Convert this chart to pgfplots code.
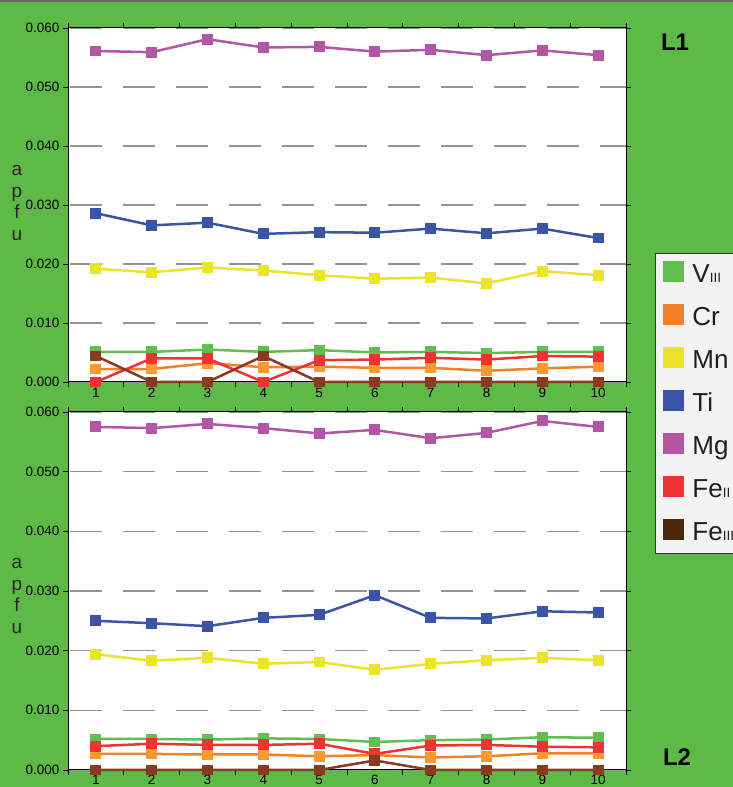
\documentclass[border=0pt]{standalone}
\usepackage{pgfplots}
\pgfplotsset{compat=1.18}
\usepackage{pgfplotstable}
\usepackage{fontspec}
\setmainfont{Liberation Sans}

\definecolor{bggreen}{RGB}{94,186,71}
\definecolor{cV}{RGB}{98,190,80}
\definecolor{cCr}{RGB}{244,128,42}
\definecolor{cCrm}{RGB}{248,154,48}
\definecolor{cMn}{RGB}{236,228,44}
\definecolor{cTi}{RGB}{58,85,166}
\definecolor{cMg}{RGB}{178,86,165}
\definecolor{cFeII}{RGB}{238,52,50}
\definecolor{cFeIII}{RGB}{138,58,32}
\definecolor{cFeIIIleg}{RGB}{74,42,10}
\definecolor{legfill}{RGB}{243,243,243}

\pgfplotstableread{
x V Cr Mn Ti Mg FeII FeIII
1 0.0051 0.0022 0.0192 0.0286 0.0561 0.0000 0.0044
2 0.0051 0.0022 0.0186 0.02655 0.0559 0.0040 0.0000
3 0.0055 0.0032 0.0194 0.0270 0.0581 0.0040 0.0000
4 0.0051 0.0025 0.0189 0.0251 0.0567 0.0000 0.0044
5 0.0054 0.0026 0.0181 0.0254 0.0568 0.0037 0.0000
6 0.0050 0.0024 0.0175 0.0253 0.0560 0.0038 0.0000
7 0.0051 0.0024 0.0177 0.0260 0.0563 0.0041 0.0000
8 0.0049 0.0019 0.0167 0.0252 0.0554 0.0038 0.0000
9 0.0051 0.0023 0.0188 0.0260 0.0562 0.0044 0.0000
10 0.0051 0.0026 0.0181 0.0244 0.0554 0.0043 0.0000
}\tableLone

\pgfplotstableread{
x V Cr Mn Ti Mg FeII FeIII
1 0.0052 0.0027 0.0194 0.0250 0.0575 0.0040 0.0000
2 0.0052 0.0027 0.0183 0.0246 0.0573 0.0044 0.0000
3 0.0051 0.0026 0.0188 0.0241 0.0580 0.0042 0.0000
4 0.0053 0.0026 0.0178 0.0255 0.0573 0.0042 0.0000
5 0.0052 0.0023 0.0181 0.0260 0.0564 0.0044 0.0000
6 0.0047 0.0025 0.0168 0.0293 0.0570 0.0027 0.0016
7 0.0050 0.0021 0.0178 0.0255 0.0556 0.0041 0.0000
8 0.0051 0.0023 0.0184 0.0254 0.0565 0.0042 0.0000
9 0.0055 0.0028 0.0188 0.0266 0.0585 0.0039 0.0000
10 0.0054 0.0028 0.0184 0.0264 0.0575 0.0038 0.0000
}\tableLtwo

\pgfplotsset{
  panel/.style={
    scale only axis,
    width=558pt,
    xmin=0.5, xmax=10.5,
    ymin=0, ymax=0.06,
    clip=false,
    axis background/.style={fill=white},
    axis line style={black, line width=1pt},
    xtick={0.5,1.5,...,10.5},
    x tick label as interval,
    xticklabels={1,2,3,4,5,6,7,8,9,10},
    ytick={0,0.01,0.02,0.03,0.04,0.05,0.06},
    scaled y ticks=false,
    yticklabel style={/pgf/number format/.cd, fixed, fixed zerofill, precision=3, assume math mode=true},
    xticklabel style={/pgf/number format/assume math mode=true, yshift=2pt},
    tick label style={font=\fontsize{13.5}{14}\selectfont, text=black},
    tick align=outside,
    major tick length=5pt,
    tick style={black, line width=0.9pt},
    ymajorgrids,
    major grid style={draw=black!42, line width=1.3pt, dash pattern=on 32pt off 21pt, dash phase=-2pt},
    every axis plot/.append style={line width=2.5pt, mark=square*, mark size=4.2pt, forget plot},
  },
}

\begin{document}
\begin{tikzpicture}[x=1pt,y=1pt]
\path[use as bounding box] (0,0) rectangle (733,787);
\clip (0,0) rectangle (733,787);
\fill[bggreen] (0,0) rectangle (733,787);
\draw[black!60, line width=1.6pt] (0,786.2) -- (733,786.2);

% top panel L1
\begin{axis}[panel, at={(68pt,405pt)}, anchor=south west, height=354pt,
  legend style={at={(1.052,0.3644)}, anchor=north west,
    fill=legfill, draw=black!80, line width=0.9pt,
    font=\fontsize{26}{26}\selectfont, text=black!88,
    inner xsep=8pt, inner ysep=8pt,
    row sep=17pt,
    nodes={inner sep=0pt, text height=19pt, text depth=5pt},
    /tikz/every odd column/.append style={column sep=8pt}},
  legend cell align=left,
  legend image code/.code={\fill[#1] (0pt,-7pt) rectangle (21pt,14pt);},
]
\addlegendimage{fill=cV, draw=none}
\addlegendentry{V{\fontsize{13.5}{13.5}\selectfont III}}
\addlegendimage{fill=cCr, draw=none}
\addlegendentry{Cr}
\addlegendimage{fill=cMn, draw=none}
\addlegendentry{Mn}
\addlegendimage{fill=cTi, draw=none}
\addlegendentry{Ti}
\addlegendimage{fill=cMg, draw=none}
\addlegendentry{Mg}
\addlegendimage{fill=cFeII, draw=none}
\addlegendentry{Fe{\fontsize{13.5}{13.5}\selectfont II}}
\addlegendimage{fill=cFeIIIleg, draw=none}
\addlegendentry{Fe{\fontsize{13.5}{13.5}\selectfont III}}

\addplot[color=cV] table[x=x,y=V] {\tableLone};
\addplot[color=cCr, mark options={fill=cCrm, draw=cCrm}] table[x=x,y=Cr] {\tableLone};
\addplot[color=cMn] table[x=x,y=Mn] {\tableLone};
\addplot[color=cTi] table[x=x,y=Ti] {\tableLone};
\addplot[color=cMg] table[x=x,y=Mg] {\tableLone};
\addplot[color=cFeII] table[x=x,y=FeII] {\tableLone};
\addplot[color=cFeIII] table[x=x,y=FeIII] {\tableLone};
\end{axis}

% bottom panel L2
\begin{axis}[panel, at={(68pt,17pt)}, anchor=south west, height=358pt,
  xticklabel style={yshift=1.5pt}]
\addplot[color=cV] table[x=x,y=V] {\tableLtwo};
\addplot[color=cCr, mark options={fill=cCrm, draw=cCrm}] table[x=x,y=Cr] {\tableLtwo};
\addplot[color=cMn] table[x=x,y=Mn] {\tableLtwo};
\addplot[color=cTi] table[x=x,y=Ti] {\tableLtwo};
\addplot[color=cMg] table[x=x,y=Mg] {\tableLtwo};
\addplot[color=cFeII] table[x=x,y=FeII] {\tableLtwo};
\addplot[color=cFeIII] table[x=x,y=FeIII] {\tableLtwo};
\end{axis}

\node[font=\fontsize{19}{21.5}\selectfont, align=center, text=black!85, inner sep=0pt] at (17,584) {a\\p\\f\\u};
\node[font=\fontsize{19}{21.5}\selectfont, align=center, text=black!85, inner sep=0pt] at (17,191) {a\\p\\f\\u};
\node[font=\bfseries\fontsize{24}{24}\selectfont, text=black] at (675,745) {L1};
\node[font=\bfseries\fontsize{24}{24}\selectfont, text=black] at (677,30) {L2};
\end{tikzpicture}
\end{document}
